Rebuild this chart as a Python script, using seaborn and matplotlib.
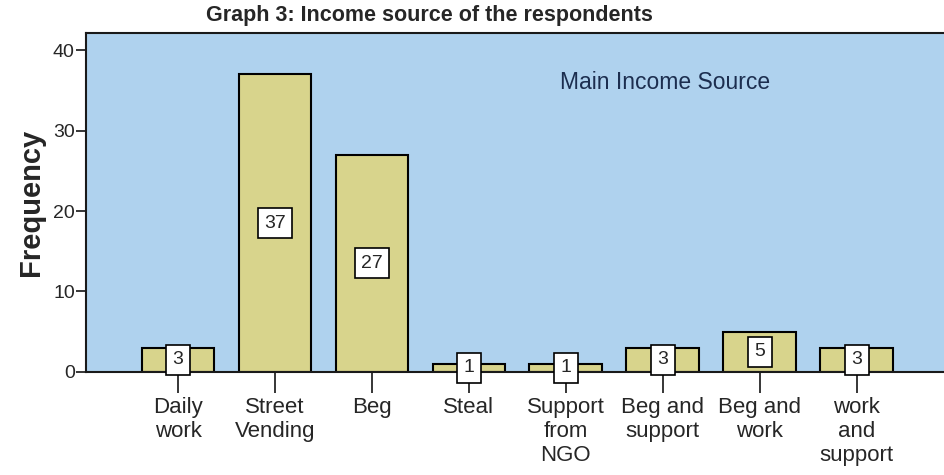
import matplotlib
matplotlib.use("Agg")
import matplotlib.pyplot as plt
import seaborn as sns
import pandas as pd

categories = ["Daily\nwork", "Street\nVending", "Beg", "Steal", "Support\nfrom\nNGO",
              "Beg and\nsupport", "Beg and\nwork", "work\nand\nsupport"]
frequency = [3, 37, 27, 1, 1, 3, 5, 3]
y_ticks = [0, 10, 20, 30, 40]

sns.set_style("white")
plt.rcParams['font.family'] = ['Liberation Sans', 'DejaVu Sans']

df = pd.DataFrame({"source": categories, "freq": frequency})

fig = plt.figure(figsize=(9.44, 4.75), dpi=100)
ax = fig.add_axes([0.091, 0.217, 0.909, 0.713])
ax.set_facecolor('#AFD2EE')

sns.barplot(data=df, x="source", y="freq", color='#D8D48C', edgecolor='black',
            linewidth=1.5, width=0.75, saturation=1, ax=ax)

for c in ax.containers:
    ax.bar_label(c, label_type='center', fontsize=14,
                 bbox=dict(boxstyle='square,pad=0.33', fc='white', ec='black', lw=1.2))

ax.set_xlim(-0.95, 7.9)
ax.set_ylim(0, 42.1)
ax.set_yticks(y_ticks)
ax.tick_params(axis='y', labelsize=14, length=7, width=1.3, direction='out', left=True, pad=1)
ax.tick_params(axis='x', labelsize=16, length=15, width=1.3, direction='out', bottom=True, pad=3)
for lbl in ax.get_xticklabels():
    lbl.set_linespacing(1.2)

for s in ['top', 'left', 'bottom']:
    ax.spines[s].set_color('#1a1a1a')
    ax.spines[s].set_linewidth(1.5)
ax.spines['right'].set_visible(False)

ax.set_xlabel('')
ax.set_ylabel('Frequency', fontsize=21, fontweight='bold', labelpad=6)
ax.text((665 - 86) / 858, 1 - (82 - 33) / 339, 'Main Income Source', transform=ax.transAxes,
        fontsize=16.5, color='#1c2e4f', ha='center', va='center')

fig.text(429 / 944, 1 - 15 / 475, 'Graph 3: Income source of the respondents',
         fontsize=15.5, fontweight='bold', ha='center', va='center')

plt.savefig('out.png', dpi=100)
